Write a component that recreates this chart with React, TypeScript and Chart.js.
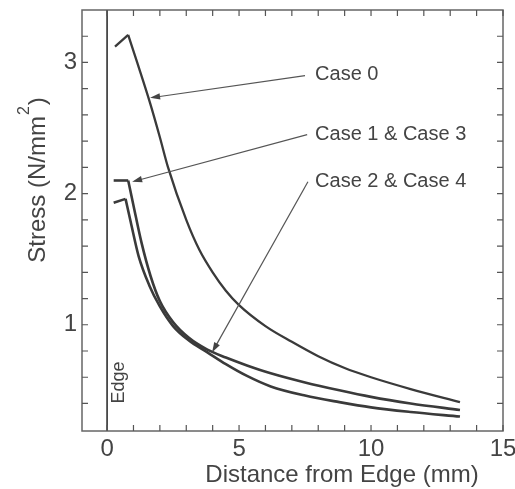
import React, { useEffect, useRef } from 'react';
import { Chart, registerables } from 'chart.js';

Chart.register(...registerables);

// ---- data ----
const case0X = [0.3, 0.8, 1.14, 1.63, 2.0, 2.31, 3.0, 3.5, 4.0, 4.5, 5.0, 6.0, 7.0, 8.0, 9.0, 10.0, 11.5, 13.37];
const case0Y = [3.12, 3.21, 3.0, 2.69, 2.43, 2.2, 1.8, 1.57, 1.4, 1.26, 1.15, 0.99, 0.87, 0.76, 0.67, 0.6, 0.51, 0.41];

const case13X = [0.25, 0.8, 1.0, 1.3, 1.65, 2.0, 2.5, 3.1, 3.8, 4.5, 5.3, 6.2, 7.5, 8.8, 10.0, 11.5, 13.37];
const case13Y = [2.1, 2.1, 1.91, 1.63, 1.37, 1.18, 1.02, 0.9, 0.81, 0.75, 0.69, 0.63, 0.56, 0.5, 0.45, 0.4, 0.35];

const case24X = [0.25, 0.7, 0.9, 1.2, 1.6, 2.0, 2.5, 3.1, 3.8, 4.5, 5.3, 6.2, 7.5, 8.8, 10.0, 11.5, 13.37];
const case24Y = [1.93, 1.96, 1.78, 1.52, 1.3, 1.14, 0.99, 0.88, 0.79, 0.7, 0.61, 0.53, 0.46, 0.41, 0.37, 0.335, 0.3];

// index of the corner (peak) where each curve starts to decay
const case0Corner = 1;
const case13Corner = 1;
const case24Corner = 1;

const xTickLabels = [0, 5, 10, 15];
const yTickLabels = [1, 2, 3];

const annotationTexts = ['Case 0', 'Case 1 & Case 3', 'Case 2 & Case 4'];
const annotationTextX = [7.88, 7.88, 7.88];
const annotationTextY = [2.91, 2.45, 2.09];
const arrowTailX = [7.5, 7.58, 7.61];
const arrowTailY = [2.9, 2.45, 2.09];
const arrowHeadX = [1.63, 0.95, 3.98];
const arrowHeadY = [2.73, 2.09, 0.79];

const X_MIN = -0.95;
const X_MAX = 15;
const Y_MIN = 0.19;
const Y_MAX = 3.4;

const FONT = '"Liberation Sans", Arial, Helvetica, sans-serif';
const TEXT_COLOR = '#444444';
const LINE_COLOR = '#3a3a3a';

const toPts = (xs: number[], ys: number[]) => xs.map((x, i) => ({ x, y: ys[i] }));

const decorPlugin = {
  id: 'decor',
  afterDatasetsDraw(chart: any) {
    const { ctx, chartArea: a, scales } = chart;
    const xs = scales.x;
    const ys = scales.y;
    ctx.save();

    // Edge line at x = 0
    const x0 = xs.getPixelForValue(0);
    ctx.strokeStyle = '#222';
    ctx.lineWidth = 1.5;
    ctx.beginPath();
    ctx.moveTo(x0, a.top);
    ctx.lineTo(x0, a.bottom);
    ctx.stroke();

    // Edge label
    ctx.save();
    ctx.translate(xs.getPixelForValue(0.45), ys.getPixelForValue(0.56));
    ctx.rotate(-Math.PI / 2);
    ctx.fillStyle = TEXT_COLOR;
    ctx.font = `18px ${FONT}`;
    ctx.textAlign = 'center';
    ctx.textBaseline = 'middle';
    ctx.fillText('Edge', 0, 0);
    ctx.restore();

    // border
    ctx.strokeStyle = '#666';
    ctx.lineWidth = 1.5;
    ctx.strokeRect(a.left, a.top, a.right - a.left, a.bottom - a.top);

    // inward ticks on all four sides
    ctx.lineWidth = 1.2;
    ctx.strokeStyle = '#555';
    const tl = 6;
    for (let v = 0; v <= 15; v++) {
      const px = xs.getPixelForValue(v);
      ctx.beginPath();
      ctx.moveTo(px, a.bottom);
      ctx.lineTo(px, a.bottom - tl);
      ctx.moveTo(px, a.top);
      ctx.lineTo(px, a.top + tl);
      ctx.stroke();
    }
    for (let k = 2; k <= 16; k++) {
      const v = k * 0.2;
      if (v <= Y_MIN + 0.02 || v >= Y_MAX - 0.02) continue;
      const py = ys.getPixelForValue(v);
      ctx.beginPath();
      ctx.moveTo(a.left, py);
      ctx.lineTo(a.left + tl, py);
      ctx.moveTo(a.right, py);
      ctx.lineTo(a.right - tl, py);
      ctx.stroke();
    }

    // annotations
    ctx.font = `20px ${FONT}`;
    ctx.textAlign = 'left';
    ctx.textBaseline = 'middle';
    for (let i = 0; i < annotationTexts.length; i++) {
      ctx.fillStyle = TEXT_COLOR;
      ctx.fillText(annotationTexts[i], xs.getPixelForValue(annotationTextX[i]), ys.getPixelForValue(annotationTextY[i]));
      const tx = xs.getPixelForValue(arrowTailX[i]);
      const ty = ys.getPixelForValue(arrowTailY[i]);
      const hx = xs.getPixelForValue(arrowHeadX[i]);
      const hy = ys.getPixelForValue(arrowHeadY[i]);
      const ang = Math.atan2(hy - ty, hx - tx);
      const len = 10;
      const hw = 3.2;
      ctx.strokeStyle = '#555';
      ctx.lineWidth = 1.2;
      ctx.beginPath();
      ctx.moveTo(tx, ty);
      ctx.lineTo(hx - Math.cos(ang) * len * 0.8, hy - Math.sin(ang) * len * 0.8);
      ctx.stroke();
      ctx.fillStyle = '#444';
      ctx.beginPath();
      ctx.moveTo(hx, hy);
      ctx.lineTo(hx - Math.cos(ang) * len - Math.sin(ang) * hw, hy - Math.sin(ang) * len + Math.cos(ang) * hw);
      ctx.lineTo(hx - Math.cos(ang) * len + Math.sin(ang) * hw, hy - Math.sin(ang) * len - Math.cos(ang) * hw);
      ctx.closePath();
      ctx.fill();
    }
    ctx.restore();
  },
  afterDraw(chart: any) {
    const { ctx } = chart;
    ctx.save();
    ctx.fillStyle = TEXT_COLOR;
    // x title
    ctx.font = `24px ${FONT}`;
    ctx.textAlign = 'center';
    ctx.textBaseline = 'middle';
    ctx.fillText('Distance from Edge (mm)', 342, 475);

    // y title with superscript
    ctx.translate(38, 180);
    ctx.rotate(-Math.PI / 2);
    const main = 'Stress (N/mm';
    const sup = '2';
    const close = ')';
    ctx.font = `24px ${FONT}`;
    const wMain = ctx.measureText(main).width;
    const wClose = ctx.measureText(close).width;
    ctx.font = `16px ${FONT}`;
    const wSup = ctx.measureText(sup).width + 2;
    const total = wMain + wSup + wClose;
    let x = -total / 2;
    ctx.textAlign = 'left';
    ctx.font = `24px ${FONT}`;
    ctx.fillText(main, x, 0);
    x += wMain;
    ctx.font = `16px ${FONT}`;
    ctx.fillText(sup, x + 1, -13);
    x += wSup;
    ctx.font = `24px ${FONT}`;
    ctx.fillText(close, x, 0);
    ctx.restore();
  },
};

export default function App() {
  const ref = useRef<HTMLCanvasElement | null>(null);

  useEffect(() => {
    if (!ref.current) return;
    const straight = {
      showLine: true,
      pointRadius: 0,
      borderColor: LINE_COLOR,
      borderWidth: 2.3,
      tension: 0,
      fill: false,
    };
    const thick = { ...straight, borderWidth: 2.6 };
    const smooth = { cubicInterpolationMode: 'monotone' as const };
    const head = (xs: number[], ys: number[], c: number) => toPts(xs.slice(0, c + 1), ys.slice(0, c + 1));
    const tail = (xs: number[], ys: number[], c: number) => toPts(xs.slice(c), ys.slice(c));
    const chart = new Chart(ref.current, {
      type: 'scatter',
      data: {
        datasets: [
          { label: 'Case 0 (start)', data: head(case0X, case0Y, case0Corner), ...straight },
          { label: 'Case 0', data: tail(case0X, case0Y, case0Corner), ...straight, ...smooth },
          { label: 'Case 1 & Case 3 (start)', data: head(case13X, case13Y, case13Corner), ...thick },
          { label: 'Case 1 & Case 3', data: tail(case13X, case13Y, case13Corner), ...thick, ...smooth },
          { label: 'Case 2 & Case 4 (start)', data: head(case24X, case24Y, case24Corner), ...thick },
          { label: 'Case 2 & Case 4', data: tail(case24X, case24Y, case24Corner), ...thick, ...smooth },
        ],
      },
      options: {
        animation: false,
        responsive: false,
        devicePixelRatio: 1,
        layout: { padding: { left: 0, top: 10, right: 12, bottom: 0 } },
        plugins: { legend: { display: false }, tooltip: { enabled: false } },
        scales: {
          x: {
            type: 'linear',
            min: X_MIN,
            max: X_MAX,
            grid: { display: false, drawTicks: false },
            border: { display: false },
            afterBuildTicks: (s: any) => {
              s.ticks = xTickLabels.map((v) => ({ value: v }));
            },
            afterFit: (s: any) => {
              s.height = 58;
              s.paddingLeft = 0;
              s.paddingRight = 0;
            },
            ticks: {
              padding: 4,
              maxRotation: 0,
              autoSkip: false,
              color: TEXT_COLOR,
              font: { family: FONT, size: 24 },
            },
          },
          y: {
            type: 'linear',
            min: Y_MIN,
            max: Y_MAX,
            grid: { display: false, drawTicks: false },
            border: { display: false },
            afterBuildTicks: (s: any) => {
              s.ticks = yTickLabels.map((v) => ({ value: v }));
            },
            afterFit: (s: any) => {
              s.width = 82;
              s.paddingTop = 0;
              s.paddingBottom = 0;
            },
            ticks: {
              padding: 5,
              autoSkip: false,
              color: TEXT_COLOR,
              font: { family: FONT, size: 24 },
            },
          },
        },
      },
      plugins: [decorPlugin],
    });
    return () => chart.destroy();
  }, []);

  return (
    <div style={{ position: 'absolute', left: 0, top: 0, width: 515, height: 489, background: '#fff' }}>
      <canvas ref={ref} width={515} height={489} style={{ display: 'block' }} />
    </div>
  );
}
